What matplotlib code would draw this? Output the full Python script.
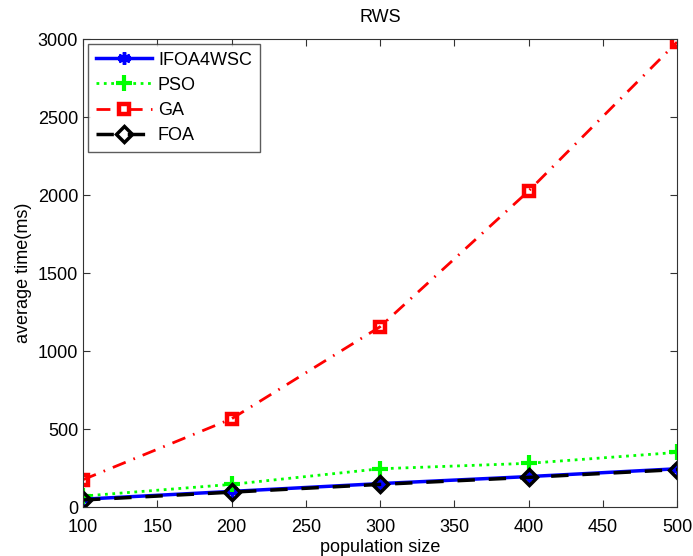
import numpy as np
import matplotlib.pyplot as plt

plt.rcParams['font.family'] = ['Liberation Sans', 'DejaVu Sans']

pop_size = [100, 200, 300, 400, 500]
ifoa4wsc = [50, 100, 150, 195, 245]
pso = [70, 145, 245, 280, 350]
ga = [175, 565, 1155, 2025, 2980]
foa = [45, 95, 145, 190, 240]

fig = plt.figure(figsize=(6.93, 5.56), dpi=100)
ax = fig.add_axes([83 / 693, 1 - 507 / 556, 594 / 693, 468 / 556])

ax.plot(pop_size, ifoa4wsc, color='blue', lw=2.5, marker=(6, 2, 0), ms=9, mew=2.5, label='IFOA4WSC')
ax.plot(pop_size, pso, color='#00ff00', lw=2, ls=':', marker='+', ms=11, mew=3, label='PSO')
ax.plot(pop_size, ga, color='red', lw=2, ls=(0, (5, 3, 0.6, 3)), marker='s', ms=7, mew=3.2, mfc='none', label='GA')
ax.plot(pop_size, foa, color='black', lw=2.5, ls=(0, (5, 4)), marker='D', ms=8, mew=2.5, mfc='none', label='FOA')

ax.set_xlim(100, 500)
ax.set_ylim(0, 3000)
ax.set_xticks(np.arange(100, 501, 50))
ax.set_yticks(np.arange(0, 3001, 500))
ax.tick_params(direction='in', top=True, right=True, labelsize=13, length=5, color='#333333')
ax.tick_params(axis='x', pad=9)
for s in ax.spines.values():
    s.set_color('#333333')

ax.set_title('RWS', fontsize=13, pad=12)
ax.set_xlabel('population size', fontsize=13, labelpad=2)
ax.set_ylabel('average time(ms)', fontsize=13, labelpad=4)

leg = ax.legend(loc='upper left', fontsize=13, fancybox=False, edgecolor='#333333',
                handlelength=3.1, handletextpad=0.35, borderpad=0.45, labelspacing=0.45,
                borderaxespad=0.25)
leg.get_frame().set_linewidth(1)

fig.savefig('out.png', dpi=100)
